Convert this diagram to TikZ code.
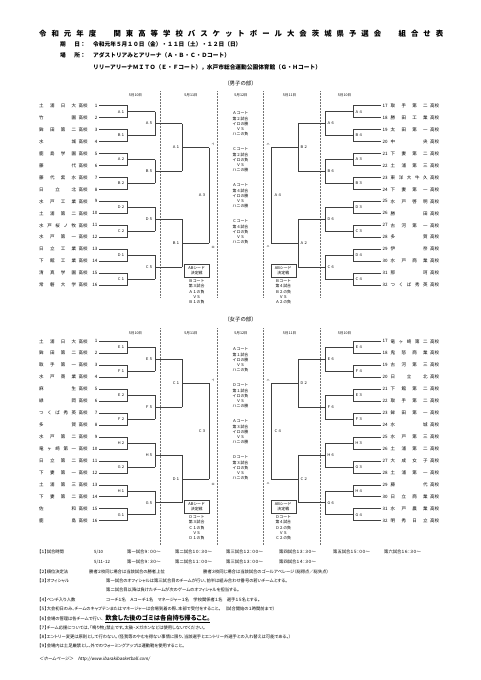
\documentclass[tikz,border=0pt]{standalone}
\usepackage{fontspec}
\setmainfont{Noto Sans CJK JP}
\newfontfamily\pfont[RawFeature=+palt]{Noto Sans CJK JP}
\newfontfamily\slfont[FakeSlant=0.2,RawFeature=+palt]{Noto Sans CJK JP}
\usetikzlibrary{positioning}

\def\rs{11.96}
% name spread over a fixed width, then the school suffix
\newcommand{\tname}[1]{\makebox[37pt][s]{#1}\hspace{2.5pt}高校}

\tikzset{
  bline/.style={draw=black!75, line width=0.6pt},
  sepline/.style={draw=black!55, densely dotted, line width=0.5pt},
  team/.style={font=\fontsize{4.5}{5}\selectfont, inner sep=0pt},
  rlabel/.style={font=\fontsize{3.7}{4}\selectfont, inner sep=0pt},
  marktext/.style={font=\fontsize{3}{3}\selectfont, inner sep=0pt},
  datetext/.style={font=\fontsize{3.6}{4}\selectfont, inner sep=0pt},
  blocktext/.style={font=\fontsize{3.9}{5.3}\selectfont, align=center, inner sep=0pt},
  seedbox/.style={draw=black!75, line width=0.5pt, font=\fontsize{3.9}{5.3}\selectfont,
    align=center, minimum width=25pt, minimum height=13pt, inner sep=0pt},
  note/.style={font=\pfont\fontsize{4.3}{5}\selectfont, anchor=west, inner sep=0pt},
  infotext/.style={font=\bfseries\fontsize{5.7}{6}\selectfont, anchor=west, inner sep=0pt},
}

% #1 prefix, #2 first row, #3 side (1 left, -1 right), #4-#7 labels of the rounds
\newcommand{\halfbracket}[7]{%
  \pgfmathsetmacro\xa{240-(#3)*141}%
  \pgfmathsetmacro\xb{240-(#3)*113}%
  \pgfmathsetmacro\xc{240-(#3)*85}%
  \pgfmathsetmacro\xd{240-(#3)*58}%
  \pgfmathsetmacro\xe{240-(#3)*31}%
  \pgfmathsetmacro\lb{\xb-(#3)*2}%
  \pgfmathsetmacro\lc{\xc-(#3)*2}%
  \pgfmathsetmacro\ld{\xd-(#3)*2}%
  \pgfmathsetmacro\le{\xe-(#3)*3}%
  \ifnum#3=1 \def\lanc{east}\else\def\lanc{west}\fi
  % first round
  \foreach \lab [count=\i from 0] in {#4}{
    \pgfmathsetmacro\ya{#2+2*\i*\rs}
    \pgfmathsetmacro\yb{\ya+\rs}
    \pgfmathsetmacro\ym{\ya+\rs/2}
    \draw[bline] (\xa,\ya) -- (\xb,\ya) -- (\xb,\yb) -- (\xa,\yb);
    \draw[bline] (\xb,\ym) -- (\xc,\ym);
    \node[rlabel, anchor=\lanc] (#1a\i) at (\lb,\ym) {\lab};
  }
  % second round
  \foreach \lab [count=\i from 0] in {#5}{
    \pgfmathsetmacro\ya{#2+(4*\i+0.5)*\rs}
    \pgfmathsetmacro\yb{\ya+2*\rs}
    \pgfmathsetmacro\ym{\ya+\rs}
    \draw[bline] (\xc,\ya) -- (\xc,\yb);
    \draw[bline] (\xc,\ym) -- (\xd,\ym);
    \node[rlabel, anchor=\lanc] (#1b\i) at (\lc,\ym) {\lab};
  }
  % third round
  \foreach \lab [count=\i from 0] in {#6}{
    \pgfmathsetmacro\ya{#2+(8*\i+1.5)*\rs}
    \pgfmathsetmacro\yb{\ya+4*\rs}
    \pgfmathsetmacro\ym{\ya+2*\rs}
    \draw[bline] (\xd,\ya) -- (\xd,\yb);
    \draw[bline] (\xd,\ym) -- (\xe,\ym);
    \node[rlabel, anchor=\lanc] (#1c\i) at (\ld,\ym) {\lab};
  }
  % fourth round
  \pgfmathsetmacro\ya{#2+3.5*\rs}
  \pgfmathsetmacro\yb{\ya+8*\rs}
  \pgfmathsetmacro\ym{\ya+4*\rs}
  \draw[bline] (\xe,\ya) -- (\xe,\yb);
  \node[rlabel, anchor=\lanc] (#1d) at (\le,\ym) {#7};
}

% #1 prefix, #2 first row, #3 names
\newcommand{\teamsleft}[3]{%
  \foreach \nm [count=\i] in {#3}{
    \pgfmathsetmacro\ty{#2+(\i-1)*\rs}
    \node[team, anchor=west] (#1n\i) at (39,\ty) {\tname{\nm}};
    \node[team, anchor=east] (#1k\i) at (97.5,\ty) {\i};
  }}
\newcommand{\teamsright}[3]{%
  \foreach \nm [count=\i from 17] in {#3}{
    \pgfmathsetmacro\ty{#2+(\i-17)*\rs}
    \node[team, anchor=west] (#1k\i) at (382.5,\ty) {\i};
    \node[team, anchor=west] (#1n\i) at (390.5,\ty) {\tname{\nm}};
  }}

\begin{document}
\begin{tikzpicture}[x=1pt, y=-1pt]
\useasboundingbox (0,0) rectangle (481,680);
% heading
\node[font=\bfseries\fontsize{7.4}{8}\selectfont, anchor=west, inner sep=0pt] (title) at (39,33.3)
  {\makebox[404pt][s]{令 和 元 年 度 　 関 東 高 等 学 校 バ ス ケ ッ ト ボ ー ル 大 会 茨 城 県 予 選 会 　 組 合 せ 表}};
\node[infotext] (datelbl) at (60,44) {\makebox[20pt][s]{期 日}：};
\node[infotext] (date) at (93,44) {令和元年５月１０日（金）・１１日（土）・１２日（日）};
\node[infotext] (placelbl) at (60,55.5) {\makebox[20pt][s]{場 所}：};
\node[infotext] (place1) at (93,55.5) {アダストリアみとアリーナ（Ａ・Ｂ・Ｃ・Ｄコート）};
\node[infotext] (place2) at (93,67) {リリーアリーナＭＩＴＯ（Ｅ・Ｆコート），水戸市総合運動公園体育館（Ｇ・Ｈコート）};

% ---------------- boys ----------------
\node[font=\fontsize{5.4}{6}\selectfont, inner sep=0pt] (boys) at (240.5,83.3) {（男子の部）};
\foreach \dx/\dd [count=\j] in {135.5/5月10日, 191/5月11日, 241/5月12日, 289.5/5月11日, 344.5/5月10日}
  \node[datetext] (mdate\j) at (\dx,95) {\dd};
\foreach \sx in {160,217,263,320}
  \draw[sepline] (\sx,91) -- (\sx,298);

\teamsleft{m}{105.7}{土 浦 日 大,竹 園,鉾 田 第 二,水 城,鹿 島 学 園,藤 代,藤 代 紫 水,日 立 北,水 戸 工 業,土 浦 第 二,水 戸 桜 ノ 牧,水 戸 第 一,日 立 工 業,下 館 工 業,清 真 学 園,常 磐 大 学}
\teamsright{m}{105.7}{取 手 第 二,勝 田 工 業,太 田 第 一,中 央,下 妻 第 二,土 浦 第 三,東 洋 大 牛 久,下 妻 第 一,水 戸 啓 明,勝 田,古 河 第 一,多 賀,伊 奈,水 戸 商 業,那 珂,つ く ば 秀 英}

\halfbracket{mL}{105.7}{1}{Ａ１,Ｂ１,Ａ２,Ｂ２,Ｄ２,Ｃ２,Ｄ１,Ｃ１}{Ａ５,Ｂ５,Ｄ５,Ｃ５}{Ａ１,Ｂ１}{Ａ３}
\halfbracket{mR}{105.7}{-1}{Ａ４,Ｂ４,Ａ３,Ｂ３,Ｄ３,Ｃ３,Ｄ４,Ｃ４}{Ａ６,Ｂ６,Ｄ６,Ｃ６}{Ｂ２,Ａ２}{Ａ４}

\node[marktext] (mi) at (213,144) {イ};
\node[marktext] (mro) at (213,247) {ロ};
\node[marktext] (mha) at (268,144) {ハ};
\node[marktext] (mni) at (268,247) {ニ};

\node[blocktext, anchor=north] (mg1) at (240.5,111.5) {Ａコート\\第２試合\\イロの勝\\ＶＳ\\ハニの負};
\node[blocktext, anchor=north] (mg2) at (240.5,147.5) {Ｃコート\\第２試合\\イロの負\\ＶＳ\\ハニの勝};
\node[blocktext, anchor=north] (mg3) at (240.5,183.5) {Ａコート\\第４試合\\イロの勝\\ＶＳ\\ハニの勝};
\node[blocktext, anchor=north] (mg4) at (240.5,219.5) {Ｃコート\\第４試合\\イロの負\\ＶＳ\\ハニの負};

\node[seedbox] (mseedL) at (196.7,270.5) {ABシード\\決定戦};
\node[blocktext, below=2pt of mseedL] (mseedLt) {Ｂコート\\第３試合\\Ａ１の負\\ＶＳ\\Ｂ１の負};
\node[seedbox] (mseedR) at (283.3,270.5) {ABシード\\決定戦};
\node[blocktext, below=2pt of mseedR] (mseedRt) {Ｂコート\\第４試合\\Ｂ２の負\\ＶＳ\\Ａ２の負};

% ---------------- girls ----------------
\node[font=\fontsize{5.4}{6}\selectfont, inner sep=0pt] (girls) at (240.5,319.3) {（女子の部）};
\foreach \dx/\dd [count=\j] in {135.5/5月10日, 191/5月11日, 241/5月12日, 289.5/5月11日, 344.5/5月10日}
  \node[datetext] (wdate\j) at (\dx,333) {\dd};
\foreach \sx in {160,217,263,320}
  \draw[sepline] (\sx,328) -- (\sx,545);

\teamsleft{w}{341.3}{土 浦 日 大,鉾 田 第 二,取 手 第 一,水 戸 商 業,麻 生,緑 岡,つ く ば 秀 英,多 賀,水 戸 第 二,竜 ヶ 崎 第 一,日 立 第 二,下 妻 第 一,土 浦 第 三,下 妻 第 二,佐 和,鹿 島}
\teamsright{w}{341.3}{竜 ヶ 崎 第 二,鬼 怒 商 業,古 河 第 三,日 立 北,下 館 第 二,取 手 第 二,鉾 田 第 一,水 城,水 戸 第 三,土 浦 第 二,大 成 女 子,土 浦 第 一,藤 代,日 立 商 業,水 戸 農 業,明 秀 日 立}

\halfbracket{wL}{341.3}{1}{Ｅ１,Ｆ１,Ｅ２,Ｆ２,Ｈ２,Ｇ２,Ｈ１,Ｇ１}{Ｅ５,Ｆ５,Ｈ５,Ｇ５}{Ｃ１,Ｄ１}{Ｃ３}
\halfbracket{wR}{341.3}{-1}{Ｅ４,Ｆ４,Ｅ３,Ｆ３,Ｈ３,Ｇ３,Ｈ４,Ｇ４}{Ｅ６,Ｆ６,Ｈ６,Ｇ６}{Ｄ２,Ｃ２}{Ｃ４}

\node[marktext] (wi) at (213,380) {イ};
\node[marktext] (wro) at (213,484) {ロ};
\node[marktext] (wha) at (268,380) {ハ};
\node[marktext] (wni) at (268,484) {ニ};

\node[blocktext, anchor=north] (wg1) at (240.5,347.5) {Ａコート\\第１試合\\イロの勝\\ＶＳ\\ハニの負};
\node[blocktext, anchor=north] (wg2) at (240.5,383.5) {Ｄコート\\第１試合\\イロの負\\ＶＳ\\ハニの勝};
\node[blocktext, anchor=north] (wg3) at (240.5,419.5) {Ａコート\\第３試合\\イロの勝\\ＶＳ\\ハニの勝};
\node[blocktext, anchor=north] (wg4) at (240.5,455.5) {Ｄコート\\第３試合\\イロの負\\ＶＳ\\ハニの負};

\node[seedbox] (wseedL) at (196.7,506.5) {ABシード\\決定戦};
\node[blocktext, below=2pt of wseedL] (wseedLt) {Ｄコート\\第３試合\\Ｃ１の負\\ＶＳ\\Ｄ１の負};
\node[seedbox] (wseedR) at (283.3,506.5) {ABシード\\決定戦};
\node[blocktext, below=2pt of wseedR] (wseedRt) {Ｄコート\\第４試合\\Ｄ２の負\\ＶＳ\\Ｃ２の負};

% ---------------- notes ----------------
\node[note] (n1) at (39,552.3) {【１】試合時間};
\node[note] (n1d) at (94,552.3) {5/10};
\foreach \nx/\nt [count=\j] in {127/第一試合９：００～, 175/第二試合１０：３０～, 226/第三試合１２：００～, 279/第四試合１３：３０～, 333/第五試合１５：００～, 384/第六試合１６：３０～}
  \node[note] (n1t\j) at (\nx,552.3) {\nt};
\node[note] (n1e) at (94,562) {5/11・12};
\foreach \nx/\nt [count=\j] in {127/第一試合９：３０～, 175/第二試合１１：００～, 226/第三試合１３：００～, 279/第四試合１４：３０～}
  \node[note] (n1u\j) at (\nx,562) {\nt};
\node[note] (n2) at (39,572) {【２】順位決定法};
\node[note] (n2a) at (89,572) {勝者２校同じ場合は当該試合の勝者上位};
\node[note] (n2b) at (203,572) {勝者３校同じ場合は当該試合のゴールアベレージ（総得点／総失点）};
\node[note] (n3) at (39,581.3) {【３】オフィシャル};
\node[note] (n3a) at (106,581.3) {第一試合のオフィシャルは第三試合目のチームが行い、前半は組み合わせ番号の若いチームとする。};
\node[note] (n3b) at (106,590) {第二試合目以降は負けたチームが次のゲームのオフィシャルを担当する。};
\node[note] (n4) at (39,599.7) {【４】ベンチ入り人数};
\node[note] (n4a) at (106,599.7) {コーチ１名　Ａコーチ１名　マネージャー１名　学校関係者１名　選手１５名とする。};
\node[note] (n5) at (39,609) {【５】大会初日のみ、チームのキャプテンまたはマネージャーは会場到着の際、本部で受付をすること。　（試合開始の１時間前まで）};
\node[note] (n6) at (39,619) {【６】会場の管理は各チームで行い、\hspace{2pt}{\bfseries\fontsize{6.3}{7}\selectfont\underline{飲食した後のゴミは各自持ち帰ること。}}};
\node[note] (n7) at (39,628) {【７】チーム応援については、「鳴り物」禁止です。太鼓・メガホンなどは使用しないでください。};
\node[note] (n8) at (39,636.7) {【８】エントリー変更は原則として行わない。（怪我等のやむを得ない事情に限り、当該選手とエントリー外選手との入れ替えは可能である。）};
\node[note] (n9) at (39,646) {【９】会場内は土足厳禁とし、外でのウォーミングアップは運動靴を使用すること。};
\node[note, font=\slfont\fontsize{4.4}{5}\selectfont] (hp) at (39,659.3) {＜ホームページ＞　http://www.ibarakibasketball.com/};
\end{tikzpicture}
\end{document}
